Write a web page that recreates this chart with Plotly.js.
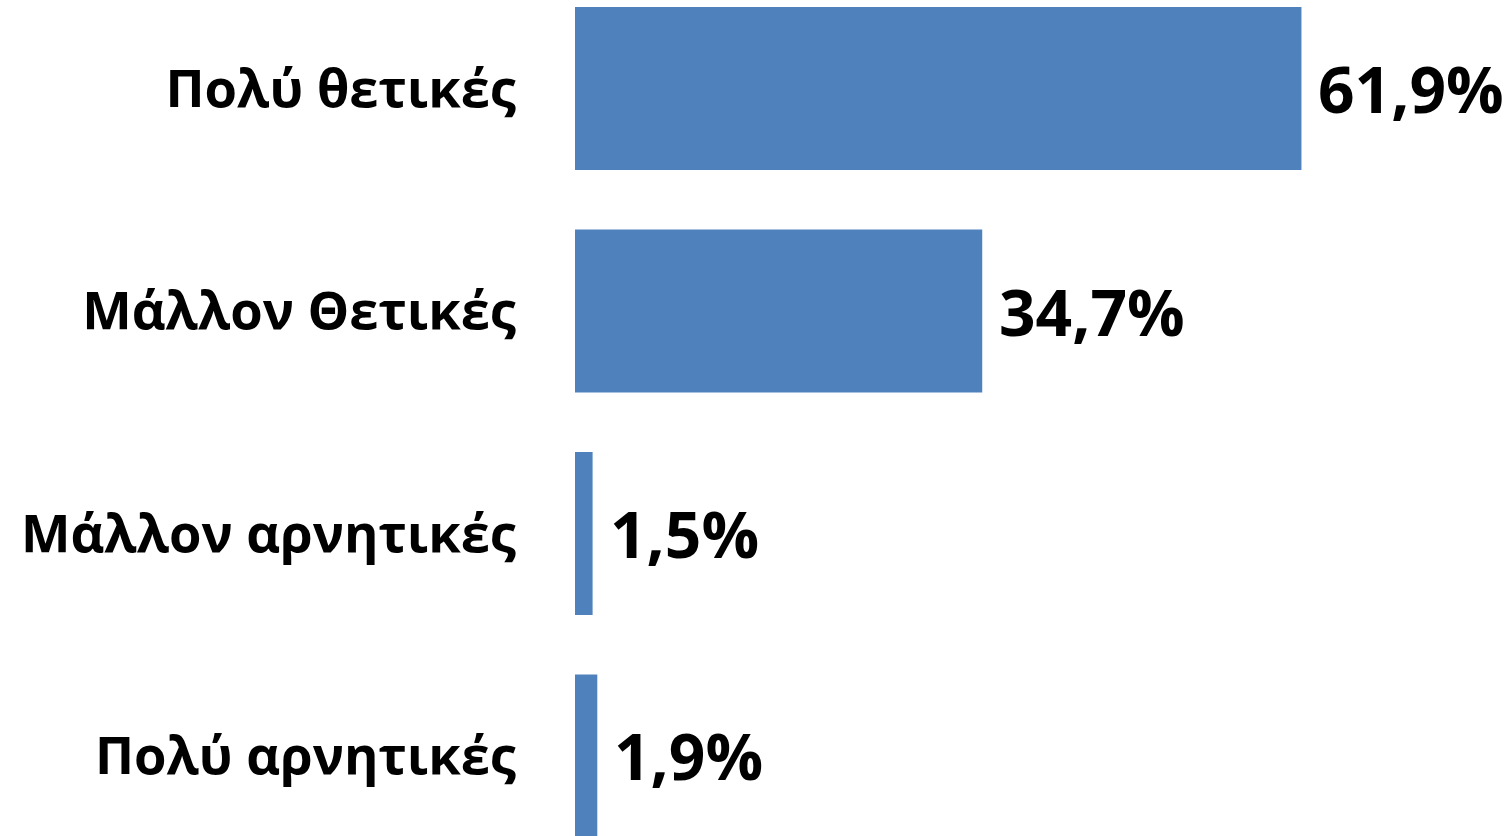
<!DOCTYPE html>
<html>
<head>
<meta charset="utf-8">
<script src="https://cdn.plot.ly/plotly-3.0.1.min.js"></script>
<style>html,body{margin:0;padding:0;background:#fff;}#chart{width:1508px;height:836px;}</style>
</head>
<body>
<div id="chart"></div>
<script>
const categories = ["Πολύ θετικές", "Μάλλον Θετικές", "Μάλλον αρνητικές", "Πολύ αρνητικές"];
const values = [61.9, 34.7, 1.5, 1.9];
const valueLabels = ["61,9%", "34,7%", "1,5%", "1,9%"];

const FONT = "Open Sans, Noto Sans, DejaVu Sans, sans-serif";

const trace = {
  type: "bar",
  orientation: "h",
  x: values,
  y: categories,
  marker: {color: "#4F81BD"},
  hoverinfo: "none"
};

const annotations = categories.map((c, i) => ({
  x: values[i],
  y: c,
  xref: "x",
  yref: "y",
  text: "<b>" + valueLabels[i] + "</b>",
  showarrow: false,
  xanchor: "left",
  yanchor: "middle",
  xshift: 15,
  font: {family: FONT, size: 64, color: "#000000"}
}));

const layout = {
  width: 1508,
  height: 836,
  margin: {l: 575, r: 0, t: 0, b: 0, pad: 0},
  paper_bgcolor: "#ffffff",
  plot_bgcolor: "#ffffff",
  showlegend: false,
  bargap: 0.267,
  xaxis: {
    range: [0, 79.5],
    showgrid: false,
    zeroline: false,
    showline: false,
    showticklabels: false,
    ticks: "",
    fixedrange: true
  },
  yaxis: {
    type: "category",
    range: [3.3596, -0.3978],
    showgrid: false,
    zeroline: false,
    showline: false,
    ticks: "",
    ticklabelstandoff: 58,
    tickfont: {family: FONT, size: 52.5, color: "#000000", weight: "bold"},
    fixedrange: true
  },
  annotations: annotations
};

Plotly.newPlot("chart", [trace], layout, {displayModeBar: false, staticPlot: true});
</script>
</body>
</html>
